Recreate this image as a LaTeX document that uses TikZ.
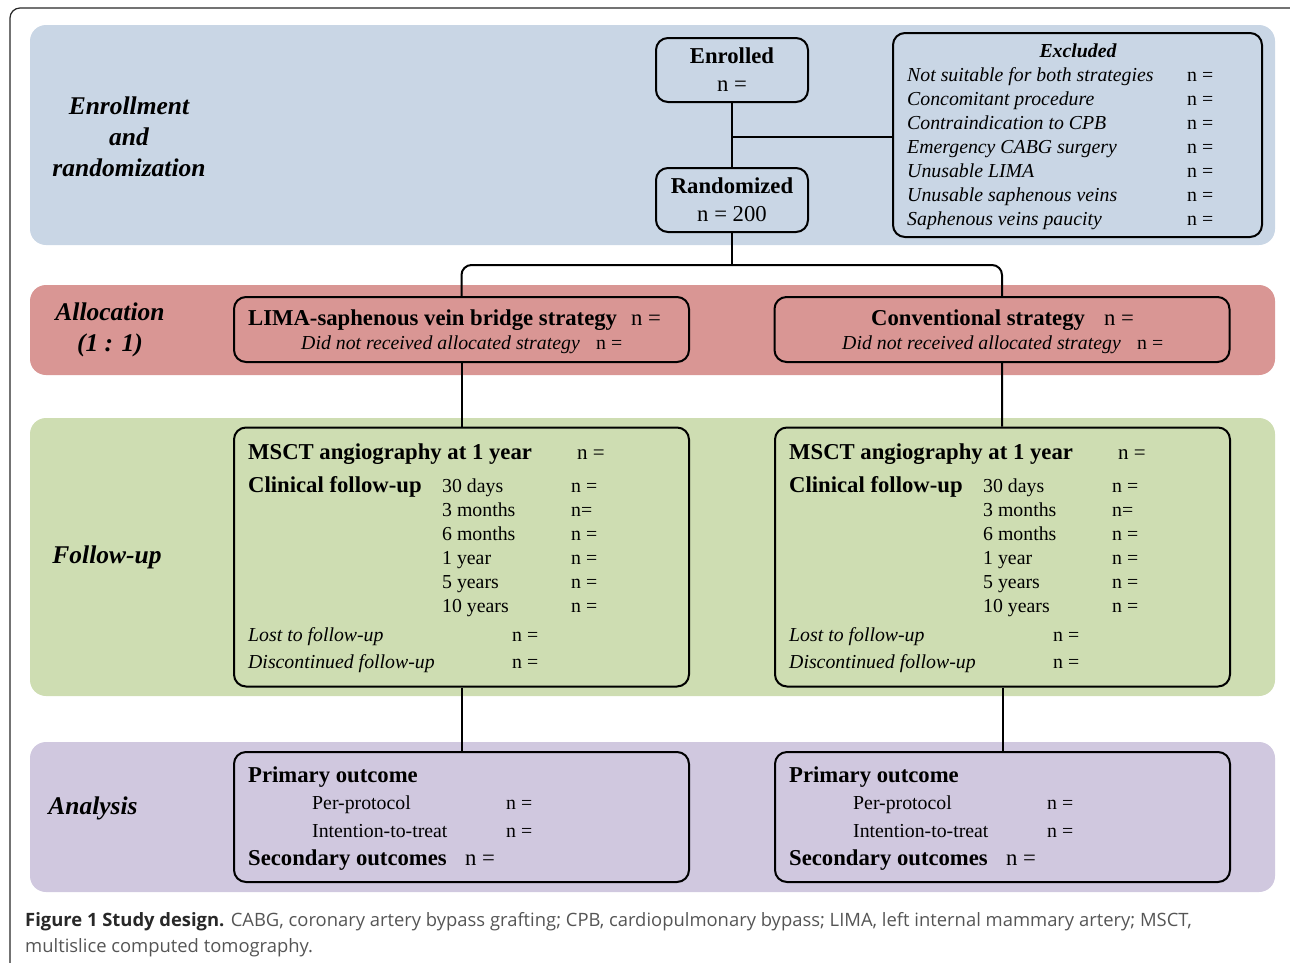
\documentclass[tikz,border=0pt]{standalone}
\usepackage{fontspec}
\setmainfont{Liberation Serif}
\newfontfamily\capfont{Open Sans}
\usepackage{xcolor}
\usepackage{tikz}
\usetikzlibrary{calc}
\usetikzlibrary{positioning}
\definecolor{bandblue}{RGB}{201,214,229}
\definecolor{bandred}{RGB}{217,150,148}
\definecolor{bandgreen}{RGB}{206,221,178}
\definecolor{bandpurple}{RGB}{208,200,223}
\definecolor{captext}{RGB}{85,85,85}
\definecolor{captitle}{RGB}{40,40,40}
\newcommand{\hfs}{\fontsize{22.7}{28}\selectfont}
\newcommand{\tfs}{\fontsize{19.8}{24}\selectfont}
\newcommand{\lfs}{\fontsize{25.5}{31}\selectfont}
\tikzset{band/.style={fill=#1, draw=none, rounded corners=16pt}}
\tikzset{box/.style={draw=black, line width=2pt, rounded corners=12pt, inner sep=0pt}}
\tikzset{conn/.style={draw=black, line width=2pt}}
\tikzset{head/.style={anchor=base west, inner sep=0pt, font=\hfs\bfseries}}
\tikzset{txt/.style={anchor=base west, inner sep=0pt, font=\tfs}}
\tikzset{itxt/.style={anchor=base west, inner sep=0pt, font=\tfs\itshape}}
\tikzset{stage/.style={align=center, inner sep=0pt, font=\lfs\bfseries\itshape}}

\begin{document}
\begin{tikzpicture}[x=1pt, y=-1pt]
		\useasboundingbox (0,0) rectangle (1290,962);
		\draw[line width=1.2pt, color=captitle, rounded corners=10pt] (10,990) -- (10,8) -- (1320,8);
		
		% bands
		\path[band=bandblue] (30,25) rectangle (1275,245);
		\path[band=bandred] (30,285) rectangle (1275,375);
		\path[band=bandgreen] (30,418) rectangle (1275,696);
		\path[band=bandpurple] (30,742) rectangle (1275,892);
		
		\node[stage] (enrlab) at (129,137) {Enrollment\\and\\randomization};
		\node[stage] (alloclab) at (110,330) {Allocation\\(1 : 1)};
		\node[stage] (fuplab) at (107,557) {Follow-up};
		\node[stage] (analab) at (93,808) {Analysis};
		
		% enrollment
		\node[box, minimum width=152pt, minimum height=64pt, align=center, font=\hfs] (enr) at (732,70) {\textbf{Enrolled}\\n =};
		\node[box, minimum width=152pt, minimum height=64pt, align=center, font=\hfs] (rand) at (732,200) {\textbf{Randomized}\\n = 200};
		\node[box, minimum width=369pt, minimum height=204pt] (excl) at (1077.5,135) {};
		\node[font=\tfs\bfseries\itshape, inner sep=0pt, anchor=base] (exctitle) at (1078,57) {Excluded};
		\foreach \t [count=\i] in {Not suitable for both strategies, Concomitant procedure, Contraindication to CPB, Emergency CABG surgery, Unusable LIMA, Unusable saphenous veins, Saphenous veins paucity} {
			\node[itxt] (exc\i) at (907,57+24*\i) {\t};
			\node[txt] (excn\i) at (1187,57+24*\i) {n =};
		}
		
		% allocation
		\node[box, minimum width=455pt, minimum height=65pt] (lima) at (461.5,329.5) {};
		\node[box, minimum width=455pt, minimum height=65pt] (conv) at (1002,329.5) {};
		\node[head] (limah) at (248,325) {LIMA-saphenous vein bridge strategy};
		\node[txt, font=\hfs] (liman) at (631,325) {n =};
		\node[itxt] (limad) at (301,349) {Did not received allocated strategy};
		\node[txt] (limadn) at (596,349) {n =};
		\node[head] (convh) at (871,325) {Conventional strategy};
		\node[txt, font=\hfs] (convn) at (1104,325) {n =};
		\node[itxt] (convd) at (842,349) {Did not received allocated strategy};
		\node[txt] (convdn) at (1137,349) {n =};
		
		% follow-up and analysis, one column per arm
		\foreach \side/\ox in {L/0, R/541} {
			\node[box, minimum width=455pt, minimum height=259pt] (fup\side) at (461.5+\ox,557) {};
			\node[head] (msct\side) at (248+\ox,459) {MSCT angiography at 1 year};
			\node[txt, font=\fontsize{21}{24}\selectfont] (msctn\side) at (577+\ox,459) {n =};
			\node[head] (clin\side) at (248+\ox,492) {Clinical follow-up};
			\foreach \t/\n [count=\j] in {30 days/n =, 3 months/n=, 6 months/n =, 1 year/n =, 5 years/n =, 10 years/n =} {
				\node[txt] (fu\side\j) at (442+\ox,468+24*\j) {\t};
				\node[txt] (fun\side\j) at (571+\ox,468+24*\j) {\n};
			}
			\node[itxt] (lost\side) at (248+\ox,641) {Lost to follow-up};
			\node[txt] (lostn\side) at (512+\ox,641) {n =};
			\node[itxt] (disc\side) at (248+\ox,668) {Discontinued follow-up};
			\node[txt] (discn\side) at (512+\ox,668) {n =};
			
			\node[box, minimum width=455pt, minimum height=130pt] (ana\side) at (461.5+\ox,817) {};
			\node[head] (prim\side) at (248+\ox,782) {Primary outcome};
			\node[txt] (pp\side) at (312+\ox,809) {Per-protocol};
			\node[txt] (ppn\side) at (506+\ox,809) {n =};
			\node[txt] (itt\side) at (312+\ox,837) {Intention-to-treat};
			\node[txt] (ittn\side) at (506+\ox,837) {n =};
			\node[head] (sec\side) at (248+\ox,865) {Secondary outcomes};
			\node[txt, font=\hfs] (secn\side) at (465+\ox,865) {n =};
		}
		
		% connectors
		\coordinate (exsplit) at (732,137);
		\coordinate (alsplit) at (732,265);
		\draw[conn] (enr) -- (rand);
		\draw[conn] (exsplit) -- (exsplit -| excl.west);
		\draw[conn] (rand) -- (alsplit);
		\draw[conn, rounded corners=10pt] (alsplit) -| (lima);
		\draw[conn, rounded corners=10pt] (alsplit) -| (conv);
		\draw[conn] (lima) -- (fupL);
		\draw[conn] (conv) -- (fupR);
		\draw[conn] (fupL) -- (anaL);
		\draw[conn] (fupR) -- (anaR);
		
		% caption
		\node[anchor=base west, inner sep=0pt, text=captext, font=\capfont\fontsize{18.4}{22}\selectfont] (cap1) at (25,926) {\textcolor{captitle}{\textbf{Figure 1 Study design.}} CABG, coronary artery bypass grafting; CPB, cardiopulmonary bypass; LIMA, left internal mammary artery; MSCT,};
		\node[anchor=base west, inner sep=0pt, text=captext, font=\capfont\fontsize{18.4}{22}\selectfont] (cap2) at (25,952) {multislice computed tomography.};
	\end{tikzpicture}
\end{document}
